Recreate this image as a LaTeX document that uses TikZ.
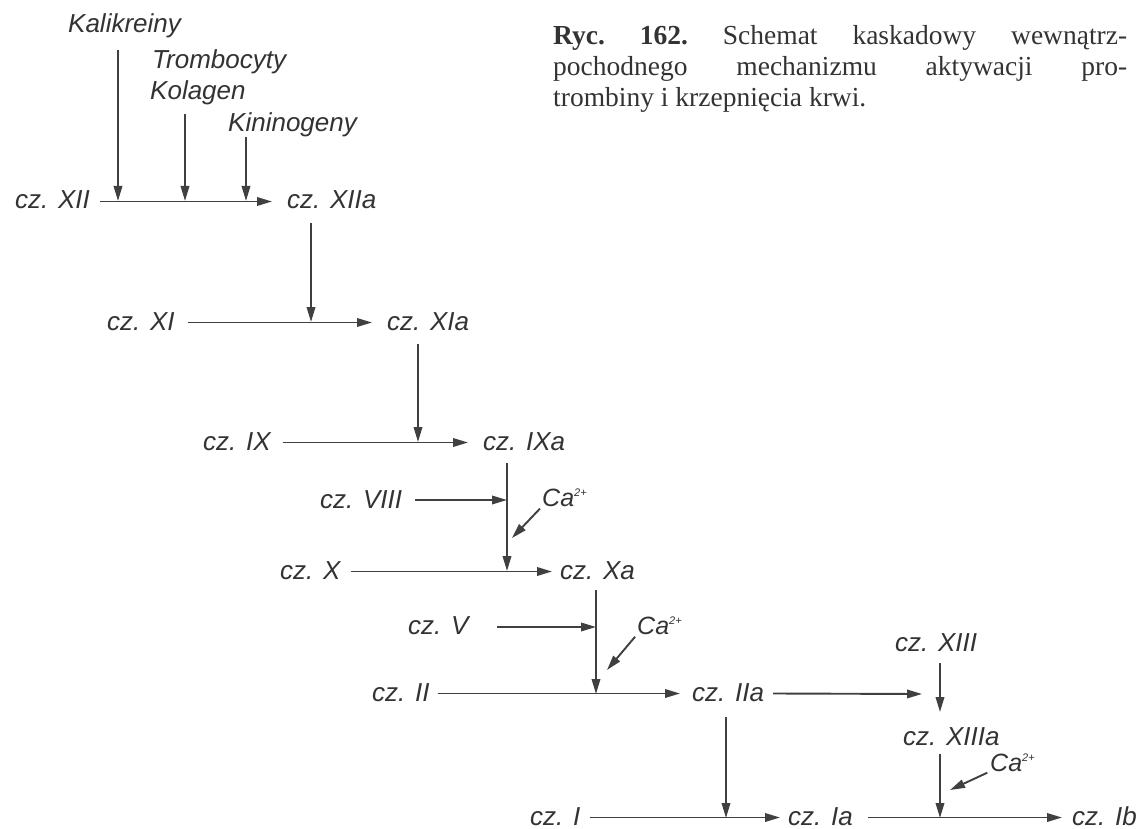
\documentclass[tikz,border=0pt]{standalone}
\usepackage{fontspec}
\setmainfont{Liberation Serif}
\newfontfamily\lab{Liberation Sans}
\usetikzlibrary{arrows.meta}
\definecolor{ink}{HTML}{333333}
\definecolor{wire}{HTML}{404040}
\begin{document}
\begin{tikzpicture}[x=1pt,y=-1pt,
  lbl/.style={anchor=base west, inner sep=0pt, text height=17pt, text depth=2pt,
    font=\lab\itshape\fontsize{26}{30}\selectfont, text=ink},
  calbl/.style={anchor=base west, inner sep=0pt,
    font=\lab\itshape\fontsize{25}{30}\selectfont, text=ink},
  arr/.style={draw=wire, line width=1.9pt, -{Triangle[length=15pt,width=8.5pt]}},
  captext/.style={anchor=base west, inner sep=0pt, text=ink,
    font=\fontsize{27.5}{31}\selectfont}]
\fill[white] (0,0) rectangle (1140,829);
\useasboundingbox (0,0) rectangle (1140,829);
\newcommand{\caSym}{Ca\raisebox{10pt}{\fontsize{11}{11}\selectfont 2+}}
% caption
\node[captext] (caption) at (553,45) {\parbox[t]{574pt}{\frenchspacing\textbf{Ryc. 162.} Schemat kaskadowy wewnątrz-\linebreak pochodnego mechanizmu aktywacji pro-\linebreak trombiny i krzepnięcia krwi.}};
% labels
\node[lbl] (kal) at (68,33) {Kalikreiny};
\node[lbl] (tro) at (152,69) {Trombocyty};
\node[lbl] (kol) at (150,100) {Kolagen};
\node[lbl] (kin) at (228,132) {Kininogeny};
\node[lbl] (xii) at (15,209) {cz. XII};
\node[lbl] (xiia) at (287,209) {cz. XIIa};
\node[lbl] (xi) at (107,330) {cz. XI};
\node[lbl] (xia) at (387,330) {cz. XIa};
\node[lbl] (ix) at (203,450) {cz. IX};
\node[lbl] (ixa) at (483,450) {cz. IXa};
\node[lbl] (viii) at (320,508) {cz. VIII};
\node[calbl] (ca1) at (542,506) {\caSym};
\node[lbl] (x) at (280,579) {cz. X};
\node[lbl] (xa) at (560,579) {cz. Xa};
\node[lbl] (v) at (408,634) {cz. V};
\node[calbl] (ca2) at (637,634) {\caSym};
\node[lbl] (ii) at (372,701) {cz. II};
\node[lbl] (iia) at (692,701) {cz. IIa};
\node[lbl] (xiii) at (895,651) {cz. XIII};
\node[lbl] (xiiia) at (903,745) {cz. XIIIa};
\node[calbl] (ca3) at (990,771) {\caSym};
\node[lbl] (i) at (530,825) {cz. I};
\node[lbl] (ia) at (788,825) {cz. Ia};
\node[lbl] (ib) at (1072,825) {cz. Ib};
% junction coordinates
\coordinate (jkal) at (118,201);
\coordinate (jkol) at (185,201);
\coordinate (jkin) at (246,201);
\coordinate (j11) at (311,322);
\coordinate (j9) at (418,442);
\coordinate (j10) at (507,571);
\coordinate (j8) at (507,500);
\coordinate (j2) at (596,694);
\coordinate (j5) at (596,627);
\coordinate (j13) at (940,694);
\coordinate (j1) at (726,818);
\coordinate (jf) at (940,818);
\coordinate (ca1t) at (512,538);
\coordinate (ca2t) at (607,670);
\coordinate (ca3t) at (950,790);
% activators of XII
\draw[arr, shorten <=15pt] (kal.south -| jkal) -- (jkal);
\draw[arr, shorten <=12pt] (kol.south -| jkol) -- (jkol);
\draw[arr, shorten <=3pt] (kin.south -| jkin) -- (jkin);
% main cascade
\draw[arr] ([xshift=10pt]xii.east) -- ([xshift=-15pt]xiia.west);
\draw[arr, shorten <=12pt] (xiia.south -| j11) -- (j11);
\draw[arr] ([xshift=13pt]xi.east) -- ([xshift=-15pt]xia.west);
\draw[arr, shorten <=12pt] (xia.south -| j9) -- (j9);
\draw[arr] ([xshift=12pt]ix.east) -- ([xshift=-15pt]ixa.west);
\draw[arr, shorten <=11pt] (ixa.south -| j10) -- (j10);
\draw[arr] ([xshift=13pt]viii.east |- j8) -- (j8);
\draw[arr, shorten <=3pt] (ca1.south west) -- (ca1t);
\draw[arr] ([xshift=10pt]x.east) -- ([xshift=-8pt]xa.west);
\draw[arr, shorten <=9pt] (xa.south -| j2) -- (j2);
\draw[arr] ([xshift=28pt]v.east |- j5) -- (j5);
\draw[arr, shorten <=3pt] (ca2.south west) -- (ca2t);
\draw[arr] ([xshift=8pt]ii.east) -- ([xshift=-12pt]iia.west);
\draw[arr] ([xshift=9pt]iia.east) -- ([xshift=-18pt]j13);
\draw[arr, shorten <=10pt] (xiii.south -| j13) -- ([yshift=-18pt]j13);
\draw[arr, shorten <=7pt] (xiiia.south -| jf) -- (jf);
\draw[arr, shorten <=3pt] (ca3.south west) -- (ca3t);
\draw[arr, shorten <=14pt] (iia.south -| j1) -- (j1);
\draw[arr] ([xshift=10pt]i.east) -- ([xshift=-8pt]ia.west);
\draw[arr] ([xshift=15pt]ia.east) -- ([xshift=-10pt]ib.west);
\end{tikzpicture}
\end{document}
